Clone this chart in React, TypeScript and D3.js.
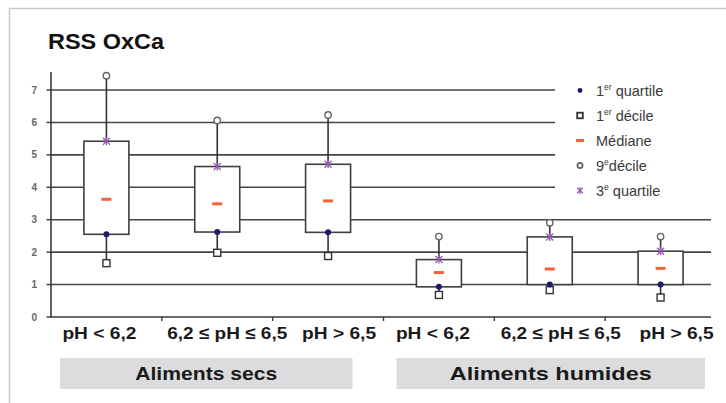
import React from "react";
import * as d3 from "d3";

const categories = ["pH < 6,2", "6,2 ≤ pH ≤ 6,5", "pH > 6,5", "pH < 6,2", "6,2 ≤ pH ≤ 6,5", "pH > 6,5"];
const decile1 = [1.66, 1.98, 1.88, 0.68, 0.83, 0.6];
const quartile1 = [2.55, 2.62, 2.61, 0.93, 1.0, 1.0];
const medians = [3.63, 3.49, 3.58, 1.37, 1.48, 1.5];
const quartile3 = [5.42, 4.64, 4.71, 1.77, 2.47, 2.03];
const decile9 = [7.44, 6.06, 6.23, 2.48, 2.91, 2.48];
const yTicks = [0, 1, 2, 3, 4, 5, 6, 7];
const groups = ["Aliments secs", "Aliments humides"];
const groupFirst = [0, 3];
const legendItems = [
  { base: "1", sup: "er", rest: " quartile", key: "q1" },
  { base: "1", sup: "er", rest: " décile", key: "d1" },
  { base: "Médiane", sup: "", rest: "", key: "med" },
  { base: "9", sup: "e", rest: "décile", key: "d9" },
  { base: "3", sup: "e", rest: " quartile", key: "q3" },
];

// styling / layout (not data)
const labelDx = [-7, 10, 11, -6, 11, 16];
const groupRect = [
  { l: 9, r: 31, tl: 142 },
  { l: 13, r: 11, tl: 202 },
];

const W = 726;
const H = 403;
const X0 = 51;
const X1 = 716;
const GRID_END = 711;

const Q1C = "#1c1c6b";
const MEDC = "#f0623a";
const Q3C = "#9a5db8";
const D9C = "#666";
const DARK = "#3f3f3f";

function Marker({ kind, cx, cy, small }: { kind: string; cx: number; cy: number; small?: boolean }) {
  const k = small ? 0.8 : 1;
  if (kind === "q1") return <circle cx={cx} cy={cy} r={3 * k} fill={Q1C} />;
  if (kind === "d1")
    return (
      <rect
        x={cx - 3.5 * k}
        y={cy - 3.5 * k}
        width={7 * k}
        height={7 * k}
        fill="#fff"
        stroke="#333"
        strokeWidth={small ? 1.8 : 1.4}
      />
    );
  if (kind === "med") return <rect x={cx - 5 * k} y={cy - 1.5} width={10 * k} height={3} fill={MEDC} />;
  if (kind === "d9")
    return <circle cx={cx} cy={cy} r={3.2 * k} fill="#fff" stroke={D9C} strokeWidth={small ? 1.8 : 1.4} />;
  const s = 3.5 * k;
  return (
    <g stroke={Q3C} strokeWidth={1.4}>
      <line x1={cx - s} y1={cy - s} x2={cx + s} y2={cy + s} />
      <line x1={cx - s} y1={cy + s} x2={cx + s} y2={cy - s} />
      <line x1={cx} y1={cy - s - 0.5} x2={cx} y2={cy + s + 0.5} />
    </g>
  );
}

export default function App() {
  const y = d3.scaleLinear().domain([0, 7]).range([317, 90]);
  const x = d3
    .scaleBand<number>()
    .domain(categories.map((_, i) => i))
    .range([X0, X1])
    .paddingInner(0)
    .paddingOuter(0);
  const bw = x.bandwidth();
  const boxW = 45;
  const font = "'Liberation Sans', Arial, Helvetica, sans-serif";

  return (
    <svg
      width={W}
      height={H}
      style={{ position: "absolute", left: 0, top: 0, background: "#fff" }}
      fontFamily={font}
    >
      <rect x={0} y={0} width={W} height={H} fill="#fff" />
      {/* frame */}
      <line x1={9} y1={8.5} x2={W} y2={8.5} stroke="#c8c8c8" strokeWidth={1.5} />
      <line x1={9.5} y1={8} x2={9.5} y2={H} stroke="#c8c8c8" strokeWidth={1.5} />

      <text x={48} y={49} fontSize={22} fontWeight="bold" fill="#111" textLength={116} lengthAdjust="spacingAndGlyphs">
        RSS OxCa
      </text>

      {/* grid lines */}
      {yTicks
        .filter((t) => t > 0)
        .map((t) => (
          <line key={t} x1={X0} x2={GRID_END} y1={y(t)} y2={y(t)} stroke="#444" strokeWidth={1.6} />
        ))}

      {/* legend background */}
      <rect x={555} y={74} width={157} height={138} fill="#fff" />

      {/* y axis */}
      <line x1={X0} x2={X0} y1={72} y2={y(0)} stroke="#3a3a3a" strokeWidth={1.6} />
      {yTicks.map((t) => (
        <g key={t}>
          <line x1={X0 - 4.5} x2={X0} y1={y(t)} y2={y(t)} stroke="#3a3a3a" strokeWidth={1.4} />
          <text x={37} y={y(t)} dy="0.35em" textAnchor="end" fontSize={10} fontWeight="bold" fill="#666">
            {t}
          </text>
        </g>
      ))}
      {/* x axis */}
      <line x1={X0} x2={GRID_END} y1={y(0)} y2={y(0)} stroke="#3a3a3a" strokeWidth={1.6} />
      {categories.slice(1).map((_, i) => (
        <line
          key={i}
          x1={x(i + 1)!}
          x2={x(i + 1)!}
          y1={y(0)}
          y2={y(0) + 4}
          stroke="#3a3a3a"
          strokeWidth={1.4}
        />
      ))}

      {/* boxes */}
      {categories.map((_, i) => {
        const cx = x(i)! + bw / 2;
        return (
          <g key={i}>
            <line x1={cx} x2={cx} y1={y(decile9[i])} y2={y(quartile3[i])} stroke="#333" strokeWidth={1.6} />
            <line x1={cx} x2={cx} y1={y(quartile1[i])} y2={y(decile1[i])} stroke="#333" strokeWidth={1.6} />
            <rect
              x={cx - boxW / 2}
              y={y(quartile3[i])}
              width={boxW}
              height={y(quartile1[i]) - y(quartile3[i])}
              fill="#fff"
              stroke={DARK}
              strokeWidth={1.6}
            />
            <Marker kind="d9" cx={cx} cy={y(decile9[i])} />
            <Marker kind="d1" cx={cx} cy={y(decile1[i])} />
            <Marker kind="med" cx={cx} cy={y(medians[i])} />
            <Marker kind="q1" cx={cx} cy={y(quartile1[i])} />
            <Marker kind="q3" cx={cx} cy={y(quartile3[i])} />
          </g>
        );
      })}

      {/* category labels */}
      {categories.map((c, i) => (
        <text
          key={i}
          x={x(i)! + bw / 2 + labelDx[i]}
          y={339}
          textAnchor="middle"
          fontSize={17}
          fontWeight="bold"
          fill="#1a1a1a"
          textLength={c.length > 9 ? 120 : 74}
          lengthAdjust="spacingAndGlyphs"
        >
          {c}
        </text>
      ))}

      {/* group labels */}
      {groups.map((g, gi) => {
        const x0 = x(groupFirst[gi])! + groupRect[gi].l;
        const x1 = x(groupFirst[gi])! + 3 * bw - groupRect[gi].r;
        return (
          <g key={g}>
            <rect x={x0} y={358} width={x1 - x0} height={31} fill="#dcdcde" />
            <text
              x={(x0 + x1) / 2}
              y={380}
              textAnchor="middle"
              fontSize={19}
              fontWeight="bold"
              fill="#1a1a1a"
              textLength={groupRect[gi].tl}
              lengthAdjust="spacingAndGlyphs"
            >
              {g}
            </text>
          </g>
        );
      })}

      {/* legend */}
      {legendItems.map((it, i) => {
        const ly = 90.5 + i * 25;
        return (
          <g key={it.key}>
            <Marker kind={it.key} cx={580} cy={ly} small />
            <text x={596} y={ly} dy="0.36em" fontSize={14.5} fill="#3a3a3a">
              {it.base}
              {it.sup && (
                <tspan fontSize={8.5} dy={-5.5}>
                  {it.sup}
                </tspan>
              )}
              {it.rest && <tspan dy={it.sup ? 5.5 : 0}>{it.rest}</tspan>}
            </text>
          </g>
        );
      })}
    </svg>
  );
}
